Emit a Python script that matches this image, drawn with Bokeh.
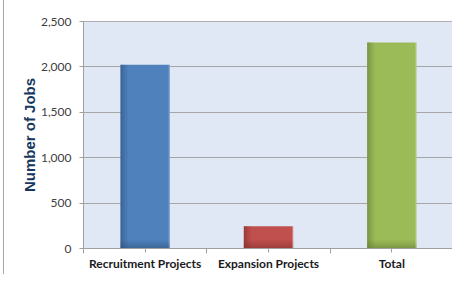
from bokeh.plotting import figure
from bokeh.models import FixedTicker, NumeralTickFormatter, Range1d
from bokeh.embed import file_html
from bokeh.resources import INLINE

categories = ["Recruitment Projects", "Expansion Projects", "Total"]
jobs = [2025, 245, 2270]
colors = ["#4F81BD", "#C0504D", "#9BBB59"]
dark_colors = ["#2C4D75", "#772C2A", "#5F7530"]
y_ticks = [0, 500, 1000, 1500, 2000, 2500]

xs = [i + 0.5 for i in range(len(categories))]
bw = 0.4

p = figure(width=449, height=274, output_backend="svg", toolbar_location=None,
           x_range=Range1d(0, len(categories)), y_range=Range1d(0, 2500),
           min_border_left=79, min_border_right=0, min_border_top=21, min_border_bottom=26)
p.styles = {"border-left": "1px solid #A6A6A6", "margin-left": "3px"}

p.background_fill_color = "#DFE8F4"
p.border_fill_color = "white"
p.outline_line_color = "#B0B0B0"
p.outline_line_width = 1

# main bars
p.vbar(x=xs, top=jobs, width=bw, fill_color=colors, line_color=None)
# shading: left edge and bottom gradient approximations
for k, a in enumerate([0.55, 0.4, 0.28, 0.17, 0.08]):
    w = 0.012
    lefts = [x - bw / 2 + k * w for x in xs]
    p.quad(left=lefts, right=[l + w for l in lefts], bottom=0, top=jobs,
           fill_color=dark_colors, fill_alpha=a, line_color=None)
for k, a in enumerate([0.5, 0.35, 0.22, 0.1]):
    h = 22
    p.quad(left=[x - bw / 2 for x in xs], right=[x + bw / 2 for x in xs],
           bottom=k * h, top=[min(j, (k + 1) * h) for j in jobs],
           fill_color=dark_colors, fill_alpha=a, line_color=None)
# light right edge
p.quad(left=[x + bw / 2 - 0.01 for x in xs], right=[x + bw / 2 for x in xs], bottom=0, top=jobs,
       fill_color="white", fill_alpha=0.25, line_color=None)

p.xgrid.visible = False
p.ygrid.grid_line_color = "#A6A6A6"
p.ygrid.grid_line_width = 1
p.ygrid.ticker = FixedTicker(ticks=y_ticks)

p.yaxis.ticker = FixedTicker(ticks=y_ticks)
p.yaxis.formatter = NumeralTickFormatter(format="0,0")
p.yaxis.axis_line_color = "#A0A0A0"
p.yaxis.major_tick_line_color = "#A0A0A0"
p.yaxis.major_tick_out = 4
p.yaxis.major_tick_in = 0
p.yaxis.minor_tick_line_color = None
p.yaxis.major_label_text_font = "Lato"
p.yaxis.major_label_text_font_size = "12px"
p.yaxis.major_label_text_color = "#404040"
p.yaxis.major_label_standoff = 8
p.yaxis.axis_label = "Number of Jobs"
p.yaxis.axis_label_text_font = "Liberation Sans"
p.yaxis.axis_label_text_font_style = "bold"
p.yaxis.axis_label_text_font_size = "15px"
p.yaxis.axis_label_text_color = "#17375E"
p.yaxis.axis_label_standoff = 0

p.xaxis.ticker = FixedTicker(ticks=xs, minor_ticks=[float(i) for i in range(len(categories) + 1)])
p.xaxis.major_label_overrides = {x: c for x, c in zip(xs, categories)}
p.xaxis.axis_line_color = "#A0A0A0"
p.xaxis.major_tick_line_color = "#A0A0A0"
p.xaxis.major_tick_out = 4
p.xaxis.major_tick_in = 0
p.xaxis.minor_tick_line_color = "#A0A0A0"
p.xaxis.minor_tick_out = 5
p.xaxis.minor_tick_in = 0
p.xaxis.major_label_text_font = "Lato"
p.xaxis.major_label_text_font_style = "bold"
p.xaxis.major_label_text_font_size = "12px"
p.xaxis.major_label_text_color = "#1A1A1A"
p.xaxis.major_label_standoff = 2

open("out.html", "w").write(file_html(p, INLINE))
